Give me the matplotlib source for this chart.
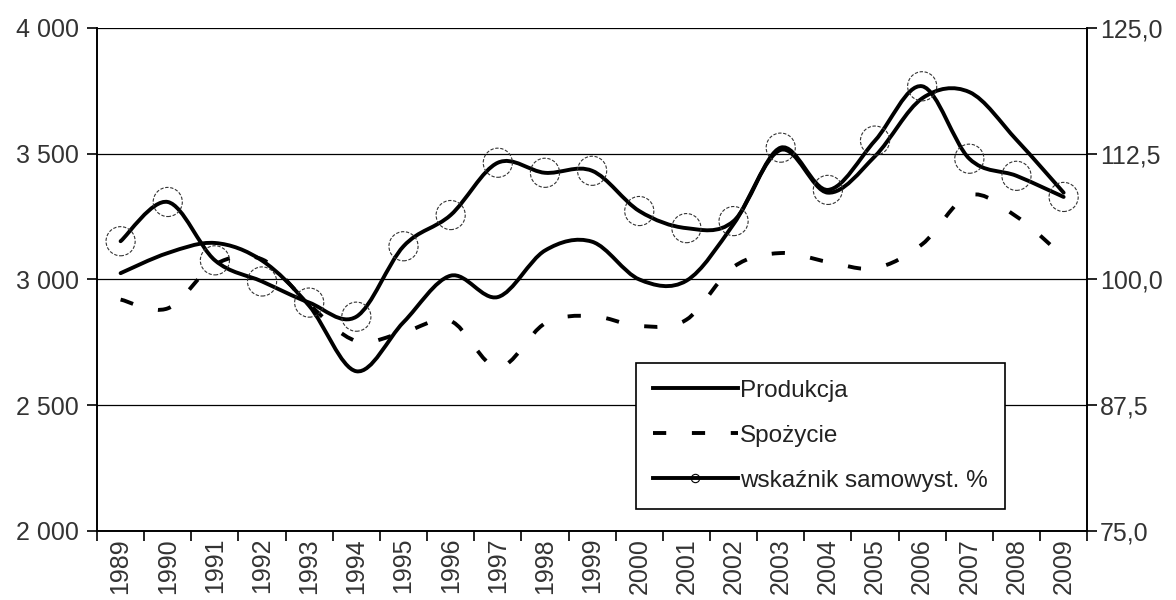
import numpy as np
import matplotlib.pyplot as plt
from matplotlib.path import Path
from matplotlib.patches import PathPatch
from matplotlib.lines import Line2D
from matplotlib.ticker import FuncFormatter

plt.rcParams['font.family'] = ['Liberation Sans', 'DejaVu Sans']

years = [str(y) for y in range(1989, 2010)]
produkcja = [3025, 3105, 3145, 3075, 2895, 2635, 2830, 3015, 2930, 3115, 3150,
             3000, 2995, 3220, 3515, 3345, 3490, 3720, 3745, 3555, 3345]
spozycie = [2920, 2885, 3060, 3080, 2900, 2755, 2790, 2835, 2650, 2825, 2855,
            2815, 2840, 3050, 3105, 3070, 3045, 3140, 3335, 3250, 3090]
wskaznik = [103.8, 107.7, 101.9, 99.8, 97.7, 96.3, 103.3, 106.4, 111.6, 110.6, 110.8,
            106.8, 105.1, 105.8, 113.1, 108.9, 113.8, 119.2, 112.0, 110.3, 108.2]
labels = ["Produkcja", "Spożycie", "wskaźnik samowyst. %"]


# smoothed line like the spreadsheet one (bezier through every point)
def smooth_path(x, y):
    x = np.asarray(x, float)
    y = np.asarray(y, float)
    n = len(x)
    verts = [(x[0], y[0])]
    codes = [Path.MOVETO]
    for i in range(n - 1):
        i0 = max(i - 1, 0)
        i3 = min(i + 2, n - 1)
        c1 = (x[i] + (x[i + 1] - x[i0]) / 6, y[i] + (y[i + 1] - y[i0]) / 6)
        c2 = (x[i + 1] - (x[i3] - x[i]) / 6, y[i + 1] - (y[i3] - y[i]) / 6)
        verts += [c1, c2, (x[i + 1], y[i + 1])]
        codes += [Path.CURVE4] * 3
    return Path(verts, codes)


x = np.arange(len(years))
lw = 2.8
dash = (0, (3.4, 6.6))
fs_tick = 18
fs_leg = 17.5

fig = plt.figure(figsize=(11.76, 6.0), dpi=100)
ax = fig.add_axes([0.0825, 0.115, 0.842, 0.8385])
ax2 = ax.twinx()

ax.set_xlim(-0.5, len(years) - 0.5)
ax.set_ylim(2000, 4000)
ax2.set_ylim(75, 125)

ax.set_yticks([2000, 2500, 3000, 3500, 4000])
ax2.set_yticks([75, 87.5, 100, 112.5, 125])
ax.yaxis.set_major_formatter(FuncFormatter(lambda v, p: f"{int(v):,}".replace(",", " ")))
ax2.yaxis.set_major_formatter(FuncFormatter(lambda v, p: f"{v:.1f}".replace(".", ",")))
ax.grid(axis='y', color='black', linewidth=0.9)
ax.set_axisbelow(True)

ax.set_xticks(x)
ax.set_xticklabels(years, rotation=90)
ax.set_xticks(np.arange(len(years) + 1) - 0.5, minor=True)
ax.tick_params(axis='x', which='major', length=0, pad=5)
ax.tick_params(axis='x', which='minor', length=7, width=1.2)
ax.tick_params(axis='y', length=7, width=1.2, pad=6)
ax2.tick_params(axis='y', length=7, width=1.2, pad=2)
for a in (ax, ax2):
    a.tick_params(labelsize=fs_tick, colors='black', labelcolor='#333333')
    a.spines['top'].set_visible(False)
    for s in ('left', 'right', 'bottom'):
        a.spines[s].set_linewidth(1.2)

ax.add_patch(PathPatch(smooth_path(x, produkcja), fill=False, color='black',
                       linewidth=lw, joinstyle='round', capstyle='round', zorder=3))
ax.add_patch(PathPatch(smooth_path(x, spozycie), fill=False, color='black',
                       linewidth=lw, linestyle=dash, capstyle='butt', zorder=3))
ax2.add_patch(PathPatch(smooth_path(x, wskaznik), fill=False, color='black',
                        linewidth=lw, joinstyle='round', capstyle='round', zorder=3))
ax2.scatter(x, wskaznik, s=440, facecolors='none', edgecolors='#333333',
            linewidths=0.8, linestyle=(0, (3, 1.5)), zorder=4)

handles = [
    Line2D([], [], color='black', linewidth=lw),
    Line2D([], [], color='black', linewidth=lw, linestyle=dash, dash_capstyle='butt'),
    Line2D([], [], color='black', linewidth=lw, marker='o', markersize=6,
           markerfacecolor='none', markeredgecolor='black', markeredgewidth=0.8),
]
leg = ax2.legend(handles, labels, loc='lower left', bbox_to_anchor=(0.544, 0.044),
                 fontsize=fs_leg, frameon=True, fancybox=False, handlelength=3.5,
                 handletextpad=0.1, labelspacing=0.95, borderpad=0.7,
                 borderaxespad=0)
leg.get_frame().set_edgecolor('black')
leg.get_frame().set_linewidth(1.2)
leg.get_frame().set_alpha(1)
for t in leg.get_texts():
    t.set_color('#222222')

fig.savefig("out.png", dpi=100)
